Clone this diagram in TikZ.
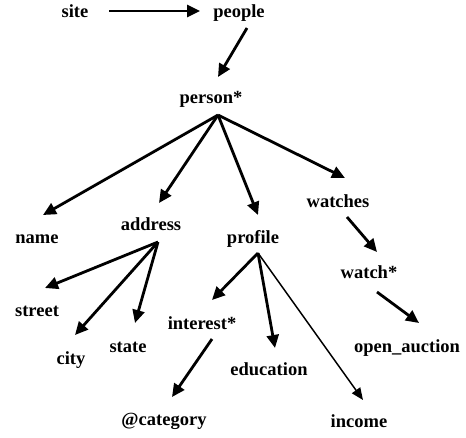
\documentclass[tikz,border=0pt]{standalone}
\usepackage{fontspec}
\setmainfont{Liberation Serif}
\usetikzlibrary{arrows.meta}

\begin{document}
\begin{tikzpicture}
    [
      x=1pt,y=-1pt,
      elem/.style={anchor=base,inner sep=0pt,font=\bfseries\fontsize{18.5}{20}\selectfont},
      post/.style={-{Triangle[length=13pt,width=12pt]},line width=2.8pt},
      thinpost/.style={-{Triangle[length=12pt,width=10pt]},line width=1.5pt},
    ]
    \useasboundingbox (0,0) rectangle (466,437);

    \node (site) [elem] at (75,17) {site};
    \node (people) [elem] at (239,17) {people};
    \node (person) [elem] at (211,103) {person*};

    \node (name) [elem] at (37,243) {name};
    \node (address) [elem] at (151,230) {address};
    \node (profile) [elem] at (253,243) {profile};
    \node (watches) [elem] at (338,207) {watches};

    \node (street) [elem] at (37,316) {street};
    \node (city) [elem] at (71,364) {city};
    \node (state) [elem] at (128,352) {state};
    \node (interest) [elem] at (202,329) {interest*};
    \node (education) [elem] at (269,375) {education};
    \node (income) [elem] at (359,427) {income};
    \node (at-category) [elem] at (164,425) {@category};
    \node (watch) [elem] at (369,278) {watch*};
    \node (open-auction) [elem] at (407,352) {open\_auction};

    \coordinate (person-fan) at ([shift={(7,12)}]person.base);
    \coordinate (address-fan) at ([shift={(7,12)}]address.base);
    \coordinate (profile-fan) at ([shift={(5,10)}]profile.base);

    \path
    ([shift={(34,-6)}]site.base) edge [post] ([shift={(-39,-6)}]people.base)
    ([shift={(8,11)}]people.base) edge [post] ([shift={(7,-26)}]person.base)

    (person-fan) edge [post] ([shift={(6,-28)}]name.base)
    (person-fan) edge [post] ([shift={(8,-27)}]address.base)
    (person-fan) edge [post] ([shift={(5,-28)}]profile.base)
    (person-fan) edge [post] ([shift={(7,-29)}]watches.base)

    (address-fan) edge [post] ([shift={(8,-28)}]street.base)
    (address-fan) edge [post] ([shift={(4,-29)}]city.base)
    (address-fan) edge [post] ([shift={(7,-29)}]state.base)

    (profile-fan) edge [post] ([shift={(10,-29)}]interest.base)
    (profile-fan) edge [post] ([shift={(6,-27)}]education.base)
    (profile-fan) edge [thinpost] ([shift={(4,-27)}]income.base)

    ([shift={(10,10)}]interest.base) edge [post] ([shift={(8,-28)}]at-category.base)
    ([shift={(9,10)}]watches.base) edge [post] ([shift={(8,-26)}]watch.base)
    ([shift={(8,14)}]watch.base) edge [post] ([shift={(12,-29)}]open-auction.base)
    ;

  \end{tikzpicture}
\end{document}
